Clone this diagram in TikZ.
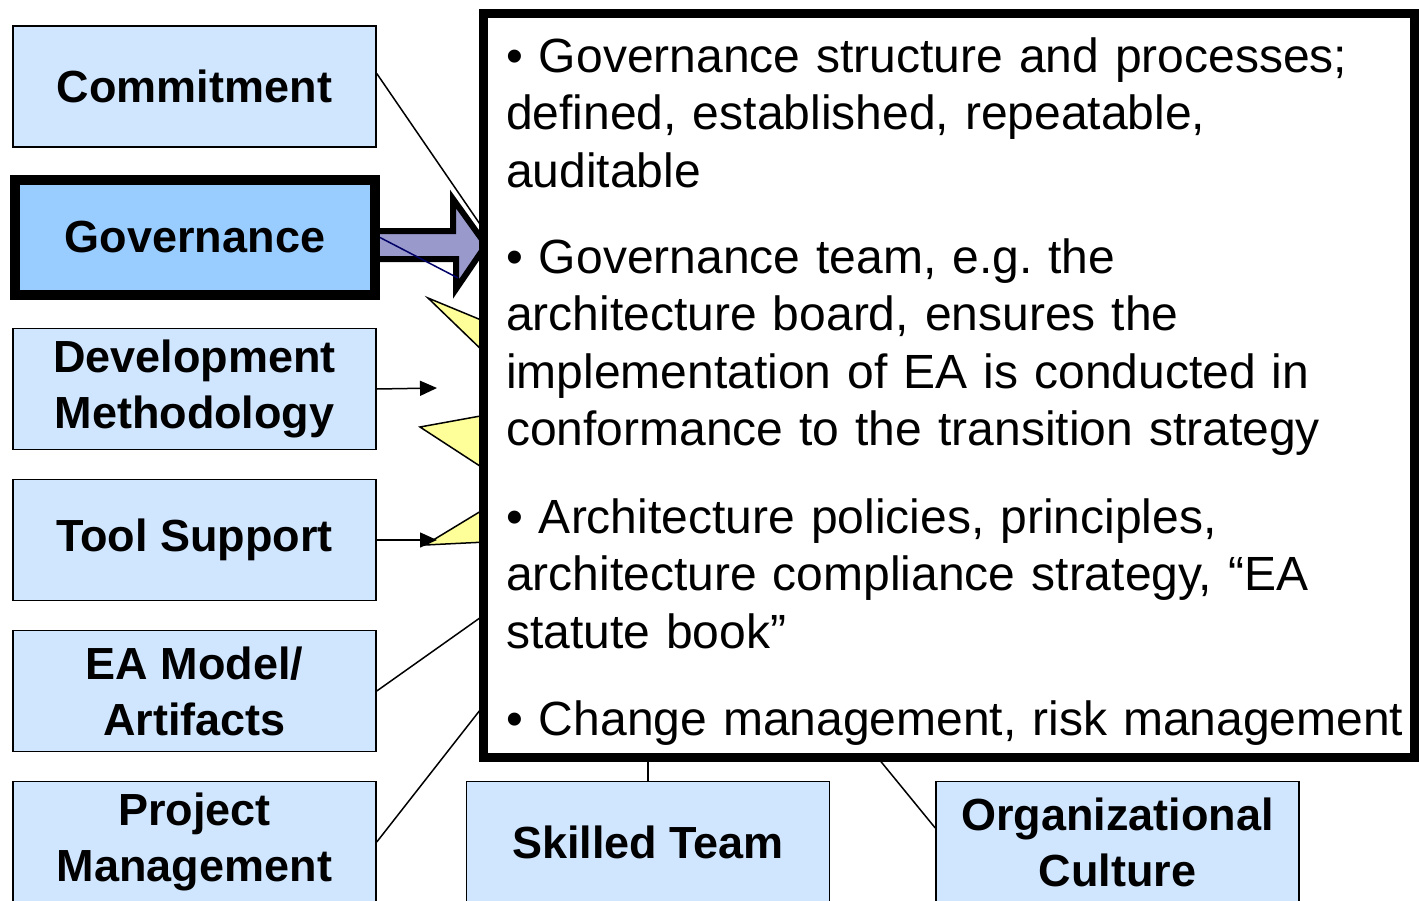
\documentclass[tikz,border=0pt]{standalone}
\usepackage{fontspec}
\setmainfont{Liberation Sans}
\usepackage{tikz}
\usetikzlibrary{arrows.meta}
\frenchspacing

\definecolor{boxblue}{RGB}{208,230,255}
\definecolor{govblue}{RGB}{153,204,255}
\definecolor{arrowpurple}{RGB}{153,153,204}
\definecolor{spikeyellow}{RGB}{255,255,153}
\definecolor{navyline}{RGB}{0,0,102}

\begin{document}
\begin{tikzpicture}[x=1pt,y=-1pt,
    box/.style={draw,line width=1.5pt,fill=boxblue,minimum width=363pt,minimum height=121pt,
        inner sep=0pt,align=center,font=\fontsize{45}{56}\selectfont\bfseries},
    govbox/.style={box,line width=10pt,fill=govblue,minimum width=360pt,minimum height=115pt},
    conn/.style={line width=1.5pt},
    connarrow/.style={conn,-{Triangle[length=17pt,width=15pt]}},
    spike/.style={fill=spikeyellow,draw,line width=1.5pt,line join=miter},
    blockarrow/.style={fill=arrowpurple,draw,line width=6pt,line join=miter},
    panel/.style={draw,fill=white,line width=9pt,minimum width=931pt,minimum height=744pt},
    para/.style={anchor=base west,text width=1000pt,align=left,inner sep=0pt,
        font=\fontsize{48}{57.5}\selectfont}]
            \useasboundingbox (0,0) rectangle (1419,900);
            \clip (0,0) rectangle (1419,900);
            \filldraw[spike] (428,298) -- (486,322) -- (486,354) -- cycle; %黄色尖角
            \filldraw[spike] (420,427) -- (486,415) -- (486,470) -- cycle;
            \filldraw[spike] (425,545) -- (486,508) -- (486,542) -- cycle;
            \filldraw[blockarrow] (375,231) -- (453,231) -- (453,199) -- (486,245) -- (456,289) -- (456,259) -- (375,259) -- cycle; %粗箭头
            \node[box] (commit) at (194.5,86.5) {Commitment}; %左列
            \node[govbox] (gov) at (195,237.5) {Governance};
            \node[box] (devmeth) at (194.5,389) {Development\\Methodology};
            \node[box] (tools) at (194.5,540) {Tool Support};
            \node[box] (eamodel) at (194.5,691) {EA Model/\\Artifacts};
            \node[box] (projmgmt) at (194.5,842) {Project\\Management};
            \node[box] (skilled) at (648,842) {Skilled Team}; %下排
            \node[box] (culture) at (1117.5,842) {Organizational\\Culture};
            \coordinate (commitend) at (484,230);
            \coordinate (govend) at (458,278);
            \coordinate (devend) at (437,388);
            \coordinate (toolend) at (437,540);
            \coordinate (eaend) at (484,615);
            \coordinate (projend) at (484,705);
            \coordinate (skillend) at (648,757);
            \coordinate (cultend) at (878,758);
            \draw[conn] ([yshift=13pt]commit.east) -- (commitend);
            \draw[conn,navyline] (gov.east) -- (govend);
            \draw[connarrow] (devmeth.east) -- (devend);
            \draw[connarrow] (tools.east) -- (toolend);
            \draw[conn] (eamodel.east) -- (eaend);
            \draw[conn] (projmgmt.east) -- (projend);
            \draw[conn] (skilled.north) -- (skillend);
            \draw[conn] ([yshift=14pt]culture.west) -- (cultend);
            \node[panel] (panel) at (948.5,385) {}; %白色文本框
            \node[para] (gov1) at (506,72) {• Governance structure and processes;\\defined, established, repeatable,\\auditable};
            \node[para] (gov2) at (506,273) {• Governance team, e.g. the\\architecture board, ensures the\\implementation of EA is conducted in\\conformance to the transition strategy};
            \node[para] (gov3) at (506,533) {• Architecture policies, principles,\\architecture compliance strategy, “EA\\statute book”};
            \node[para] (gov4) at (506,735) {• Change management, risk management};
        \end{tikzpicture}
\end{document}
